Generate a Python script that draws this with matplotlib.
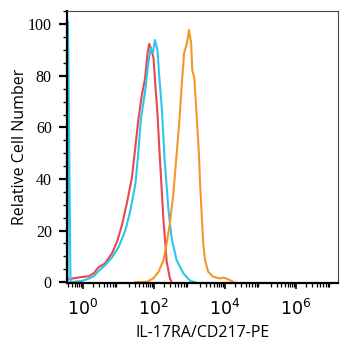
import numpy as np
import matplotlib
matplotlib.use('Agg')
import matplotlib.pyplot as plt
from matplotlib.ticker import LogLocator, FixedLocator, MultipleLocator, NullFormatter

plt.rcParams['mathtext.fontset'] = 'custom'
plt.rcParams['mathtext.rm'] = 'Liberation Serif'

# log10 of fluorescence and relative cell counts
red_log = [-0.44, -0.38, -0.01, 0.18, 0.32, 0.46, 0.63, 0.83, 0.97, 1.11, 1.25, 1.39,
           1.46, 1.57, 1.67, 1.76, 1.83, 1.88, 1.95, 2.00, 2.04, 2.11, 2.17, 2.28,
           2.37, 2.46, 2.51]
red_val = [0.8, 1.2, 2.0, 2.3, 3.5, 5.9, 7.2, 11.2, 15.6, 22.1, 30.7, 40.4,
           49.0, 62.8, 72.5, 79.0, 88.7, 92.4, 89.8, 86.8, 78.4, 65.5, 50.0, 24.0,
           8.0, 1.5, 0.0]

cyan_log = [-0.42, -0.41, -0.34, -0.01, 0.18, 0.32, 0.46, 0.64, 0.83, 1.02, 1.21, 1.35,
            1.49, 1.56, 1.64, 1.76, 1.85, 1.92, 1.98, 2.04, 2.11, 2.16, 2.23, 2.31,
            2.42, 2.51, 2.65, 2.84, 3.03, 3.17]
cyan_val = [0.0, 101.0, 0.0, 0.5, 1.4, 2.3, 4.4, 6.6, 9.6, 13.7, 20.2, 27.9,
            38.3, 48.6, 62.8, 73.8, 84.8, 90.7, 89.0, 93.9, 90.0, 80.0, 68.0, 48.0,
            28.0, 17.0, 8.5, 3.4, 0.5, 0.0]

orange_log = [1.48, 1.81, 1.99, 2.14, 2.28, 2.37, 2.46, 2.56, 2.65, 2.73, 2.79, 2.86,
              2.94, 3.00, 3.06, 3.09, 3.15, 3.20, 3.25, 3.28, 3.31, 3.36, 3.40, 3.45,
              3.54, 3.68, 3.87, 3.97, 4.11, 4.25]
orange_val = [0.0, 0.1, 1.4, 4.0, 8.5, 15.0, 22.8, 34.4, 49.6, 62.8, 75.8, 88.7,
              92.6, 97.8, 92.6, 82.3, 79.0, 68.0, 56.4, 49.3, 38.3, 25.3, 15.0, 8.5,
              4.0, 2.1, 1.4, 1.8, 1.0, 0.1]

y_ticks = [0, 20, 40, 60, 80, 100]
x_ticks = [1e0, 1e2, 1e4, 1e6]
x_labels = [r'$\mathregular{10^{0}}$', r'$\mathregular{10^{2}}$',
            r'$\mathregular{10^{4}}$', r'$\mathregular{10^{6}}$']

fig = plt.figure(figsize=(3.51, 3.50), dpi=100, facecolor='white')
ax = fig.add_axes([0.191, 0.191, 0.772, 0.778])

ax.plot(10 ** np.array(red_log), red_val, color='#e8474d', lw=1.5)
ax.plot(10 ** np.array(cyan_log), cyan_val, color='#2cc5ec', lw=1.5)
ax.plot(10 ** np.array(orange_log), orange_val, color='#f5962a', lw=1.5)

ax.set_xscale('log')
ax.set_xlim(10 ** -0.437, 10 ** 7.197)
ax.set_ylim(-0.4, 105.2)

# y ticks
ax.yaxis.set_major_locator(FixedLocator(y_ticks))
ax.yaxis.set_minor_locator(MultipleLocator(5))
ax.set_yticklabels([str(v) for v in y_ticks], family='Liberation Serif', fontsize=11.5)
ax.tick_params(axis='y', which='major', direction='out', length=6, width=1.6, pad=5)
ax.tick_params(axis='y', which='minor', direction='out', length=3, width=1.0)

# x ticks
ax.xaxis.set_major_locator(FixedLocator(x_ticks))
ax.xaxis.set_minor_locator(LogLocator(base=10, subs=np.arange(2, 10), numticks=20))
ax.xaxis.set_minor_formatter(NullFormatter())
ax.set_xticklabels(x_labels, fontsize=12.5)
ax.tick_params(axis='x', which='major', direction='out', length=4, width=1.2, pad=7)
ax.tick_params(axis='x', which='minor', direction='out', length=3, width=0.9)

for side in ['left', 'bottom']:
    ax.spines[side].set_linewidth(1.6)
    ax.spines[side].set_color('black')
for side in ['top', 'right']:
    ax.spines[side].set_linewidth(0.8)
    ax.spines[side].set_color('#444444')

ax.set_ylabel('Relative Cell Number', family='Open Sans', fontsize=11.5, labelpad=0)
ax.set_xlabel('IL-17RA/CD217-PE', family='Open Sans', fontsize=11.5, labelpad=5)

fig.savefig('out.png', dpi=100, facecolor='white')
